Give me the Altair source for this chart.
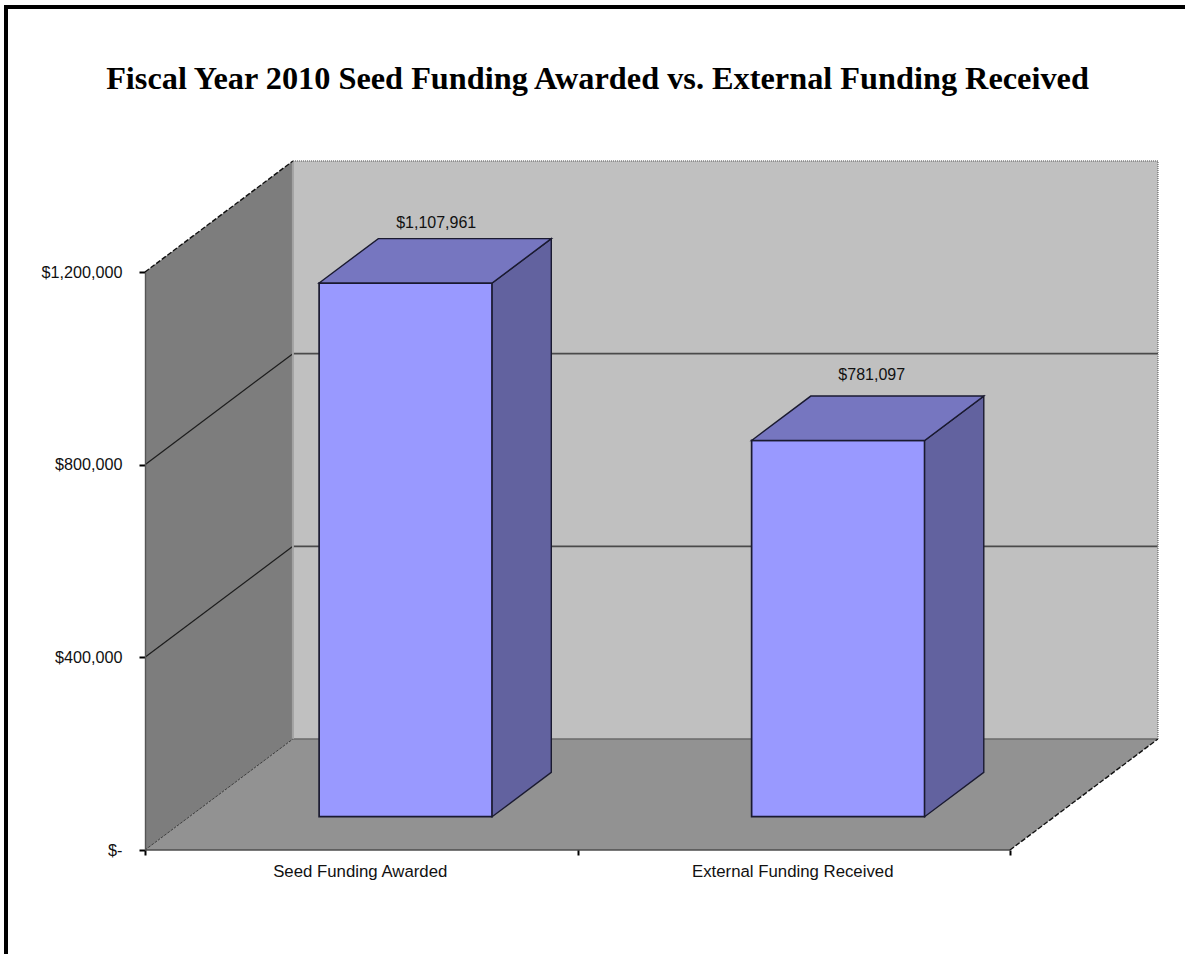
import altair as alt
import pandas as pd

# Chart values
categories = ["Seed Funding Awarded", "External Funding Received"]
funding = [1107961, 781097]
axis_ticks = [0, 400000, 800000, 1200000]
chart_title = "Fiscal Year 2010 Seed Funding Awarded vs. External Funding Received"

# Oblique projection of the box: depth 1 shifts a point right and up, in data units
DEPTH_X = 0.342
DEPTH_Y = 230450
AXIS_MAX = 1200000
BAND_INSET = 0.3
BAR_WIDTH = 0.4
BAR_DEPTH_FRONT = 0.3
BAR_DEPTH_BACK = 0.7

WALL_SIDE = "#7d7d7d"
WALL_BACK = "#c0c0c0"
FLOOR = "#929292"
BAR_FRONT = "#9999ff"
BAR_TOP = "#7676c0"
BAR_SIDE = "#62629f"
EDGE = "#1a1a30"

span = len(categories)
x_scale = alt.Scale(domain=[0, span], nice=False, zero=False)
y_scale = alt.Scale(domain=[0, AXIS_MAX], nice=False, zero=False)
x_axis = alt.Axis(
    values=list(range(span + 1)), labels=False, title=None, grid=False, domain=False,
    tickColor="#000000", tickWidth=2, tickSize=5, zindex=1)
y_axis = alt.Axis(
    values=axis_ticks, title=None, grid=False,
    labelExpr="datum.value === 0 ? '$-' : format(datum.value, '$,.0f')",
    labelFont="Liberation Sans", labelFontSize=16.2, labelColor="#111111",
    labelPadding=17, domainColor="#555555", domainWidth=1.4,
    tickColor="#000000", tickWidth=2, tickSize=6, zindex=1)
X = alt.X("x:Q", scale=x_scale, axis=x_axis)
Y = alt.Y("y:Q", scale=y_scale, axis=y_axis)


def face(rows, fill, stroke=None, width=1.2):
    """Filled polygon from (x, y, bottom) rows, sorted left to right."""
    frame = pd.DataFrame(rows, columns=["x", "y", "bottom"])
    props = {"fill": fill, "interpolate": "linear", "opacity": 1}
    if stroke:
        props.update(stroke=stroke, strokeWidth=width)
    return alt.Chart(frame).mark_area(**props).encode(
        x=X,
        y=alt.Y("y:Q", scale=y_scale, axis=y_axis, stack=None),
        y2="bottom:Q",
    )


def edges(segments, color, width=1.0, dash=None):
    """Straight edges given as ((x, y), (x, y)) pairs in data units."""
    rows = []
    for i, (start, end) in enumerate(segments):
        rows.append({"seg": i, "x": start[0], "y": start[1], "n": 0})
        rows.append({"seg": i, "x": end[0], "y": end[1], "n": 1})
    props = {"color": color, "strokeWidth": width}
    if dash:
        props["strokeDash"] = dash
    return alt.Chart(pd.DataFrame(rows)).mark_line(**props).encode(
        x=X, y=Y, detail="seg:N", order="n:Q",
    )


# Walls and floor of the box
back_left, back_right = DEPTH_X, span + DEPTH_X
left_wall = face([(0, AXIS_MAX, 0), (DEPTH_X, AXIS_MAX + DEPTH_Y, DEPTH_Y)], WALL_SIDE)
back_wall = face([(back_left, AXIS_MAX + DEPTH_Y, DEPTH_Y),
                  (back_right, AXIS_MAX + DEPTH_Y, DEPTH_Y)], WALL_BACK)
floor = face([(0, 0, 0), (DEPTH_X, DEPTH_Y, 0), (span, DEPTH_Y, 0),
              (span + DEPTH_X, DEPTH_Y, DEPTH_Y)], FLOOR)

inner_ticks = axis_ticks[1:-1]
side_grid = edges([((0, v), (DEPTH_X, v + DEPTH_Y)) for v in inner_ticks], "#1c1c1c", 1.2)
back_grid = edges([((back_left, v + DEPTH_Y), (back_right, v + DEPTH_Y)) for v in inner_ticks],
                  "#4a4a4a", 1.6)
floor_back = edges([((back_left, DEPTH_Y), (back_right, DEPTH_Y))], "#6a6a6a", 1.6)
floor_front = edges([((0, 0), (span, 0))], "#4d4d4d", 1.4)
wall_corner = edges([((back_left, DEPTH_Y), (back_left, AXIS_MAX + DEPTH_Y))], "#a2a2a2", 2)
outer_dashed = edges([((0, AXIS_MAX), (DEPTH_X, AXIS_MAX + DEPTH_Y)),
                      ((span, 0), (span + DEPTH_X, DEPTH_Y))], "#111111", 1.4, [5, 2])
floor_corner = edges([((0, 0), (DEPTH_X, DEPTH_Y))], "#3a3a3a", 1, [3, 1])
outer_dotted = edges([((back_left, AXIS_MAX + DEPTH_Y), (back_right, AXIS_MAX + DEPTH_Y)),
                      ((back_right, DEPTH_Y), (back_right, AXIS_MAX + DEPTH_Y))],
                     "#777777", 1.4, [1, 1])

# Three visible faces of each column, each with its value written above it
bars = []
labels = []
label_nudge = [(1, -8), (4, -13)]
for i, value in enumerate(funding):
    left = i + BAND_INSET
    front_x = left + BAR_DEPTH_FRONT * DEPTH_X
    front_y = BAR_DEPTH_FRONT * DEPTH_Y
    back_x = left + BAR_DEPTH_BACK * DEPTH_X
    back_y = BAR_DEPTH_BACK * DEPTH_Y
    bars.append(face([(front_x, value + front_y, front_y),
                      (front_x + BAR_WIDTH, value + front_y, front_y)],
                     BAR_FRONT, EDGE, 1.7))
    bars.append(face([(front_x + BAR_WIDTH, value + front_y, front_y),
                      (back_x + BAR_WIDTH, value + back_y, back_y)],
                     BAR_SIDE, EDGE, 1.4))
    bars.append(face([(front_x, value + front_y, value + front_y),
                      (back_x, value + back_y, value + front_y),
                      (front_x + BAR_WIDTH, value + back_y, value + front_y),
                      (back_x + BAR_WIDTH, value + back_y, value + back_y)],
                     BAR_TOP, EDGE, 1.4))
    nudge_x, nudge_y = label_nudge[i]
    row = pd.DataFrame({"x": [(front_x + back_x + BAR_WIDTH) / 2],
                        "y": [value + back_y], "value": [value]})
    labels.append(alt.Chart(row).mark_text(
        font="Liberation Sans", fontSize=16, color="#111111", baseline="bottom",
        dx=nudge_x, dy=nudge_y
    ).encode(x=X, y=Y, text=alt.Text("value:Q", format="$,.0f")))

category_frame = pd.DataFrame({"name": categories,
                               "x": [i + 0.5 for i in range(span)],
                               "y": [0] * span})
category_labels = alt.Chart(category_frame).mark_text(
    font="Liberation Sans", fontSize=16.8, color="#111111", baseline="middle", dy=22, dx=-1
).encode(x=X, y=Y, text="name:N")

# Heading, placed against the plot's top-left corner
title_mark = alt.Chart(pd.DataFrame({"t": [chart_title]})).mark_text(
    font="Liberation Serif", fontSize=32.3, fontWeight="bold", color="#000000",
    align="center", baseline="alphabetic"
).encode(x=alt.value(452.5), y=alt.value(-183), text="t:N")

# Thick frame round the chart area, running off the right and bottom of the page
frame = alt.Chart(pd.DataFrame({"k": [0]})).mark_rect(
    fill="transparent", stroke="#000000", strokeWidth=4
).encode(
    x=alt.value(-139), x2=alt.value(1100), y=alt.value(-265), y2=alt.value(760)
)

layers = [left_wall, back_wall, floor, side_grid, back_grid, floor_back, floor_front,
          wall_corner, floor_corner, outer_dashed, outer_dotted, *bars,
          *labels, category_labels, title_mark, frame]

chart = alt.layer(*layers).properties(
    width=865,
    height=578,
    padding={"left": 145, "top": 272, "right": 175, "bottom": 104},
    autosize=alt.AutoSizeParams(type="none"),
    background="#ffffff",
).configure_view(stroke=None)

chart.save("out.html", embed_options={"renderer": "svg", "actions": False})
